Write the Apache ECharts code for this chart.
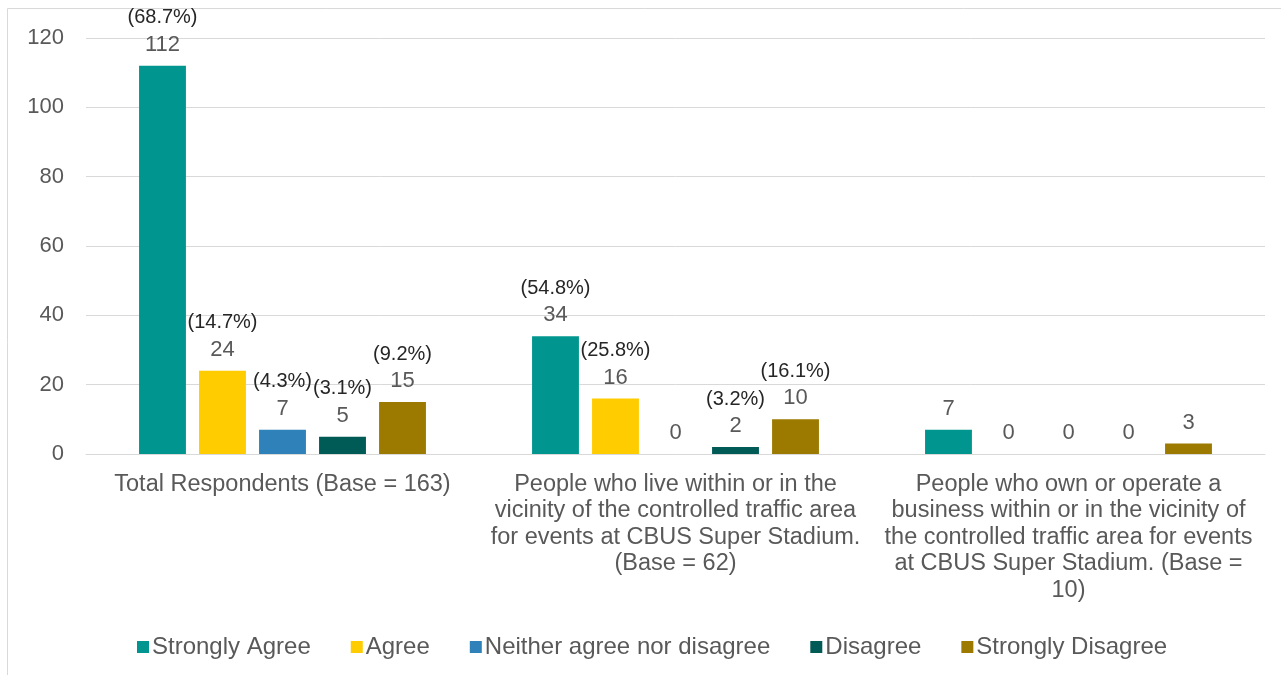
<!DOCTYPE html>
<html>
<head>
<meta charset="utf-8">
<script src="https://cdn.jsdelivr.net/npm/echarts@6/dist/echarts.min.js"></script>
<style>
  html, body { margin: 0; padding: 0; background: #fff; }
  #chart { width: 1281px; height: 675px; }
</style>
</head>
<body>
<div id="chart"></div>
<script>
var categories = [
  "Total Respondents (Base = 163)",
  "People who live within or in the\nvicinity of the controlled traffic area\nfor events at CBUS Super Stadium.\n(Base = 62)",
  "People who own or operate a\nbusiness within or in the vicinity of\nthe controlled traffic area for events\nat CBUS Super Stadium. (Base =\n10)"
];
var seriesNames = ["Strongly Agree", "Agree", "Neither agree nor disagree", "Disagree", "Strongly Disagree"];
var colors = ["#00968F", "#FFCC00", "#2E81B9", "#005A55", "#9C7A00"];

// counts per series, one per category
var stronglyAgree = [112, 34, 7];
var agree = [24, 16, 0];
var neither = [7, 0, 0];
var disagree = [5, 2, 0];
var stronglyDisagree = [15, 10, 3];

// percentage labels (null = not shown)
var pctStronglyAgree = ["68.7%", "54.8%", null];
var pctAgree = ["14.7%", "25.8%", null];
var pctNeither = ["4.3%", null, null];
var pctDisagree = ["3.1%", "3.2%", null];
var pctStronglyDisagree = ["9.2%", "16.1%", null];

var yTicks = [0, 20, 40, 60, 80, 100, 120];

var values = [stronglyAgree, agree, neither, disagree, stronglyDisagree];
var pcts = [pctStronglyAgree, pctAgree, pctNeither, pctDisagree, pctStronglyDisagree];
var font = "Liberation Sans, Arial, sans-serif";

var chart = echarts.init(document.getElementById("chart"));

var series = seriesNames.map(function (name, i) {
  return {
    name: name,
    type: "bar",
    data: values[i],
    barGap: "28%",
    barCategoryGap: "27%",
    itemStyle: { color: colors[i] },
    label: {
      show: true,
      position: "top",
      distance: 8,
      fontFamily: font,
      formatter: function (p) {
        var pct = pcts[p.seriesIndex][p.dataIndex];
        if (pct) {
          return "{p|(" + pct + ")}\n{v|" + p.value + "}";
        }
        return "{v|" + p.value + "}";
      },
      rich: {
        p: { fontSize: 20, color: "#262626", lineHeight: 28, fontFamily: font },
        v: { fontSize: 22, color: "#595959", lineHeight: 26, fontFamily: font }
      }
    }
  };
});

chart.setOption({
  animation: false,
  color: colors,
  graphic: [
    {
      type: "rect",
      shape: { x: 7.5, y: 8.5, width: 1300, height: 700 },
      style: { fill: null, stroke: "#d9d9d9", lineWidth: 1 },
      silent: true
    }
  ],
  grid: {
    left: 86,
    right: 16,
    top: 38,
    bottom: 221
  },
  legend: {
    data: seriesNames,
    top: 630,
    left: 132,
    icon: "rect",
    itemWidth: 12,
    itemHeight: 12,
    itemGap: 40,
    textStyle: { fontSize: 24, color: "#595959", fontFamily: font, padding: [0, 0, 0, -2] }
  },
  xAxis: {
    type: "category",
    data: categories,
    axisTick: { show: false },
    axisLine: { lineStyle: { color: "#d9d9d9", width: 1 } },
    axisLabel: {
      interval: 0,
      margin: 17,
      fontSize: 23.5,
      lineHeight: 26.5,
      color: "#595959",
      fontFamily: font,
      align: "center"
    }
  },
  yAxis: {
    type: "value",
    min: yTicks[0],
    max: yTicks[yTicks.length - 1],
    interval: 20,
    axisLine: { show: false },
    axisTick: { show: false },
    splitLine: { lineStyle: { color: "#d9d9d9", width: 1 } },
    axisLabel: {
      margin: 22,
      fontSize: 22,
      color: "#595959",
      fontFamily: font
    }
  },
  series: series
});
</script>
</body>
</html>
